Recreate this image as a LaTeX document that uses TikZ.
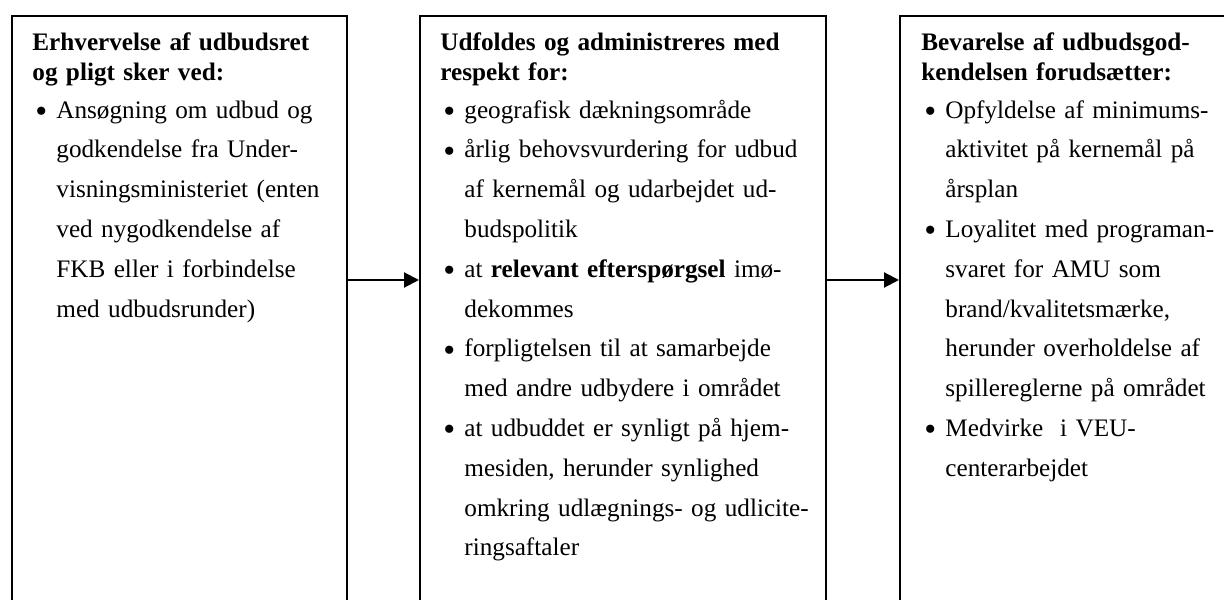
\documentclass[tikz,border=0pt]{standalone}
\usepackage{fontspec}
\setmainfont{Liberation Serif}
\usepackage{graphicx}
\usepackage{tikz}
\usetikzlibrary{arrows.meta,positioning}

\newcommand{\punkt}{\makebox[12pt][l]{\hspace{1.5pt}\raisebox{-2.2pt}{\scalebox{1.35}{\textbullet}}}}
\newcommand{\fort}{\hspace*{12pt}}

\begin{document}
\begin{tikzpicture}[x=0.5pt,y=0.5pt,
  kasse/.style={draw,line width=1pt,minimum height=300pt,inner sep=0pt,anchor=north west},
  tekst/.style={inner sep=0pt,text width=200pt,align=left,font=\fontsize{12.6}{15}\selectfont},
  pil/.style={line width=1pt,-{Triangle[length=7.5pt,width=7.5pt]}}]

\useasboundingbox (0,0) rectangle (1224,599);
\clip (0,0) rectangle (1224,599);

% boxes
\node[kasse,minimum width=167.5pt] (erhverv) at (11,583.5) {};
\node[kasse,minimum width=203pt] (udfold) at (419,583.5) {};
\node[kasse,minimum width=210pt] (bevar) at (899,583.5) {};

% texts
\node[tekst,below right=7.25pt and 10.5pt of erhverv.north west] (erhverv-txt) {%
\rule{0pt}{10pt}\textbf{Erhvervelse af udbudsret}\\\textbf{og pligt sker ved:}\par
\vspace{-1pt}\fontsize{12.6}{19.9}\selectfont
\punkt Ansøgning om udbud og\\
\fort godkendelse fra Under-\\
\fort visningsministeriet (enten\\
\fort ved nygodkendelse af\\
\fort FKB eller i forbindelse\\
\fort med udbudsrunder)\par};

\node[tekst,below right=7.25pt and 10.5pt of udfold.north west] (udfold-txt) {%
\rule{0pt}{10pt}\textbf{Udfoldes og administreres med}\\\textbf{respekt for:}\par
\vspace{-1pt}\fontsize{12.6}{19.9}\selectfont
\punkt geografisk dækningsområde\\
\punkt årlig behovsvurdering for udbud\\
\fort af kernemål og udarbejdet ud-\\
\fort budspolitik\\
\punkt at \textbf{relevant efterspørgsel} imø-\\
\fort dekommes\\
\punkt forpligtelsen til at samarbejde\\
\fort med andre udbydere i området\\
\punkt at udbuddet er synligt på hjem-\\
\fort mesiden, herunder synlighed\\
\fort omkring udlægnings- og udlicite-\\
\fort ringsaftaler\par};

\node[tekst,below right=7.25pt and 11pt of bevar.north west] (bevar-txt) {%
\rule{0pt}{10pt}\textbf{Bevarelse af udbudsgod-}\\\textbf{kendelsen forudsætter:}\par
\vspace{-1pt}\fontsize{12.6}{19.9}\selectfont
\punkt Opfyldelse af minimums-\\
\fort aktivitet på kernemål på\\
\fort årsplan\\
\punkt Loyalitet med programan-\\
\fort svaret for AMU som\\
\fort brand/kvalitetsmærke,\\
\fort herunder overholdelse af\\
\fort spillereglerne på området\\
\punkt Medvirke~ i VEU-\\
\fort centerarbejdet\par};

% arrows
\draw[pil] ([yshift=-132.25pt]erhverv.north east) -- ([yshift=-132.25pt]udfold.north west);
\draw[pil] ([yshift=-132.25pt]udfold.north east) -- ([yshift=-132.25pt]bevar.north west);
\end{tikzpicture}
\end{document}
